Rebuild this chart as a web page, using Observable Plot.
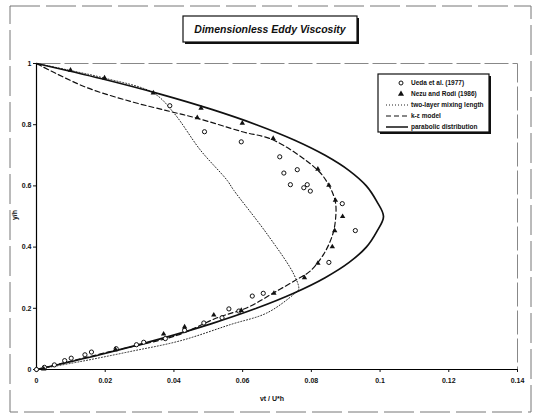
<!DOCTYPE html>
<html><head><meta charset="utf-8">
<script src="https://cdn.jsdelivr.net/npm/d3@7"></script>
<script src="https://cdn.jsdelivr.net/npm/@observablehq/plot@0.6"></script>
<style>body{margin:0;background:#fff}svg{display:block}</style>
</head><body><div id="chart"></div>
<script>
// ---- data ----
const xTicks = [0, 0.02, 0.04, 0.06, 0.08, 0.1, 0.12, 0.14];
const xTickLabels = ["0", "0.02", "0.04", "0.06", "0.08", "0.1", "0.12", "0.14"];
const yTicks = [0, 0.2, 0.4, 0.6, 0.8, 1];
const yTickLabels = ["0", "0.2", "0.4", "0.6", "0.8", "1"];

const seriesNames = ["Ueda et al. (1977)", "Nezu and Rodi (1986)", "two-layer mixing length", "k-ε model", "parabolic distribution"];

// Ueda et al. (open circles)
const uedaX = [0, 0.0023, 0.0052, 0.0082, 0.0101, 0.0141, 0.016, 0.0232, 0.0291, 0.0312, 0.0375, 0.0431, 0.0487, 0.054, 0.056, 0.0589, 0.0628, 0.066, 0.0851, 0.0928, 0.089, 0.0797, 0.0778, 0.0788, 0.0739, 0.072, 0.0759, 0.0708, 0.0596, 0.0489, 0.0388];
const uedaY = [0, 0.007, 0.015, 0.029, 0.037, 0.048, 0.057, 0.068, 0.081, 0.089, 0.101, 0.128, 0.152, 0.169, 0.198, 0.191, 0.24, 0.249, 0.35, 0.454, 0.542, 0.583, 0.594, 0.604, 0.604, 0.642, 0.653, 0.695, 0.744, 0.777, 0.862];

// Nezu and Rodi (filled triangles)
const nezuX = [0.0021, 0.023, 0.037, 0.0431, 0.0516, 0.0596, 0.0691, 0.078, 0.0819, 0.0861, 0.0868, 0.0891, 0.087, 0.0851, 0.0819, 0.0689, 0.0599, 0.0468, 0.0479, 0.034, 0.0198, 0.0099];
const nezuY = [0.002, 0.065, 0.116, 0.139, 0.178, 0.193, 0.249, 0.3, 0.347, 0.401, 0.454, 0.5, 0.553, 0.602, 0.655, 0.755, 0.805, 0.823, 0.854, 0.904, 0.953, 0.978];

// two-layer mixing length (dotted)
const mixX = [0, 0.0128, 0.0274, 0.0419, 0.0565, 0.0671, 0.0749, 0.0763, 0.0749, 0.0671, 0.0574, 0.0555, 0.0477, 0.04, 0.034, 0.0195, 0.0095, 0];
const mixY = [0, 0.026, 0.059, 0.094, 0.147, 0.185, 0.246, 0.262, 0.311, 0.443, 0.586, 0.618, 0.717, 0.838, 0.904, 0.953, 0.978, 1];

// k-epsilon model (dashed)
const keX = [0, 0.022, 0.041, 0.0526, 0.0613, 0.0691, 0.0759, 0.0797, 0.0836, 0.0861, 0.087, 0.087, 0.0851, 0.0817, 0.0689, 0.0599, 0.0468, 0.039, 0.0274, 0.0138, 0];
const keY = [0, 0.06, 0.112, 0.169, 0.202, 0.251, 0.295, 0.322, 0.377, 0.4375, 0.487, 0.547, 0.602, 0.653, 0.75, 0.777, 0.821, 0.843, 0.876, 0.925, 1];

// parabolic distribution (solid)
const parX = [0, 0.019, 0.036, 0.051, 0.064, 0.075, 0.084, 0.091, 0.096, 0.099, 0.101, 0.099, 0.096, 0.091, 0.084, 0.075, 0.064, 0.051, 0.036, 0.019, 0];
const parY = [0, 0.05, 0.1, 0.15, 0.2, 0.25, 0.3, 0.35, 0.4, 0.45, 0.5, 0.55, 0.6, 0.65, 0.7, 0.75, 0.8, 0.85, 0.9, 0.95, 1];

const toPts = (xs, ys) => xs.map((x, i) => ({x, y: ys[i]}));
const xFmt = new Map(xTicks.map((t, i) => [t, xTickLabels[i]]));
const yFmt = new Map(yTicks.map((t, i) => [t, yTickLabels[i]]));

const FONT = "'Liberation Sans', Arial, sans-serif";

const chart = Plot.plot({
  width: 533, height: 414,
  marginLeft: 36, marginRight: 16, marginTop: 63, marginBottom: 45,
  style: {fontFamily: FONT, fontSize: "7px", fontWeight: "bold", background: "#fff", color: "#111", overflow: "visible"},
  x: {domain: [0, 0.14]},
  y: {domain: [0, 1]},
  marks: [
    Plot.frame({stroke: "#888", strokeDasharray: "24,4"}),
    Plot.axisX({ticks: xTicks, tickFormat: d => xFmt.get(d), tickSize: 3, tickPadding: 6, label: null}),
    Plot.axisY({ticks: yTicks, tickFormat: d => yFmt.get(d), tickSize: 3, tickPadding: 2, label: null}),
    Plot.ruleX([0], {stroke: "#000", strokeWidth: 1.2}),
    Plot.ruleY([0], {stroke: "#000", strokeWidth: 1.2}),
    Plot.line(toPts(mixX, mixY), {x: "x", y: "y", stroke: "#222", strokeWidth: 1, strokeDasharray: "1,2", curve: "catmull-rom"}),
    Plot.line(toPts(keX, keY), {x: "x", y: "y", stroke: "#111", strokeWidth: 1.2, strokeDasharray: "5,3", curve: "catmull-rom"}),
    Plot.line(toPts(parX, parY), {x: "x", y: "y", stroke: "#111", strokeWidth: 1.7, curve: "catmull-rom"}),
    Plot.dot(toPts(uedaX, uedaY), {x: "x", y: "y", symbol: "circle", r: 2.1, fill: "#fff", stroke: "#111", strokeWidth: 1}),
    Plot.dot(toPts(nezuX, nezuY), {x: "x", y: "y", symbol: "triangle", r: 2, fill: "#111", stroke: "none"})
  ]
});

document.getElementById("chart").appendChild(chart);

const svg = d3.select(chart);
// outer chart border
svg.append("rect").attr("x", 10).attr("y", 6).attr("width", 521).attr("height", 406)
  .attr("fill", "none").attr("stroke", "#777").attr("stroke-width", 1).attr("stroke-dasharray", "30,6");

// axis titles
svg.append("text").attr("transform", "translate(17,215) rotate(-90)").attr("text-anchor", "middle")
  .attr("font-family", FONT).attr("font-size", 7).attr("font-weight", "bold").attr("fill", "#111").text("y/h");
svg.append("text").attr("x", 272).attr("y", 401).attr("text-anchor", "middle")
  .attr("font-family", FONT).attr("font-size", 7).attr("font-weight", "bold").attr("fill", "#111").text("νt / U*h");

// title box with shadow
const tg = svg.append("g");
tg.append("rect").attr("x", 185).attr("y", 18).attr("width", 174).attr("height", 26).attr("fill", "#111");
tg.append("rect").attr("x", 183).attr("y", 16).attr("width", 174).attr("height", 26).attr("fill", "#fff").attr("stroke", "#111").attr("stroke-width", 1.2);
tg.append("text").attr("x", 270).attr("y", 33).attr("text-anchor", "middle")
  .attr("font-family", FONT).attr("font-size", 10.5).attr("font-weight", "bold").attr("font-style", "italic")
  .attr("fill", "#111").text("Dimensionless Eddy Viscosity");

// legend
const lg = svg.append("g").attr("text-anchor", "start");
lg.append("rect").attr("x", 380).attr("y", 76).attr("width", 111).attr("height", 58).attr("fill", "#111");
lg.append("rect").attr("x", 378).attr("y", 74).attr("width", 111).attr("height", 58).attr("fill", "#fff").attr("stroke", "#111").attr("stroke-width", 1.2);
const rows = [83, 94, 105, 116, 127];
// symbols
lg.append("circle").attr("cx", 401).attr("cy", rows[0]).attr("r", 2).attr("fill", "#fff").attr("stroke", "#111");
lg.append("path").attr("d", d3.symbol(d3.symbolTriangle, 16)()).attr("transform", `translate(401,${rows[1]})`).attr("fill", "#111");
lg.append("line").attr("x1", 386).attr("x2", 408).attr("y1", rows[2]).attr("y2", rows[2]).attr("stroke", "#222").attr("stroke-dasharray", "1,2");
lg.append("line").attr("x1", 386).attr("x2", 408).attr("y1", rows[3]).attr("y2", rows[3]).attr("stroke", "#111").attr("stroke-width", 1.2).attr("stroke-dasharray", "5,3");
lg.append("line").attr("x1", 386).attr("x2", 408).attr("y1", rows[4]).attr("y2", rows[4]).attr("stroke", "#111").attr("stroke-width", 1.5);
seriesNames.forEach((name, i) => {
  lg.append("text").attr("x", 411).attr("y", rows[i] + 2.3).attr("text-anchor", "start")
    .attr("font-family", FONT).attr("font-size", 6.5).attr("font-weight", "bold").attr("fill", "#111").text(name);
});
</script>
</body></html>
